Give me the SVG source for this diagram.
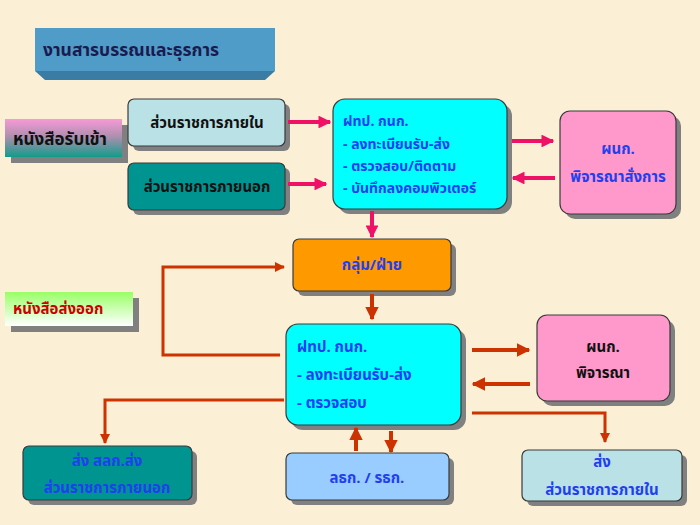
<svg xmlns="http://www.w3.org/2000/svg" width="700" height="525" viewBox="0 0 700 525">
<defs>
<linearGradient id="gPink" x1="0" y1="0" x2="0" y2="1">
<stop offset="0" stop-color="#f79ad6"/><stop offset="0.45" stop-color="#b08fb0"/><stop offset="1" stop-color="#129c8a"/>
</linearGradient>
<linearGradient id="gGreen" x1="0" y1="0" x2="0" y2="1">
<stop offset="0" stop-color="#99ff66"/><stop offset="1" stop-color="#ffffff"/>
</linearGradient>
<marker id="aPink" viewBox="0 0 10 10" refX="9" refY="5" markerWidth="3.2" markerHeight="3.2" orient="auto" markerUnits="strokeWidth">
<path d="M0,0 L10,5 L0,10 Z" fill="#ee1166"/>
</marker>
<marker id="aRed" viewBox="0 0 10 10" refX="9" refY="5" markerWidth="3.4" markerHeight="3.4" orient="auto" markerUnits="strokeWidth">
<path d="M0,0 L10,5 L0,10 Z" fill="#cc3300"/>
</marker>
</defs>
<style>
text{font-family:"Noto Sans Thai","Tahoma","DejaVu Sans","Liberation Sans",sans-serif;font-weight:bold;}
.t{font-size:15px;}
.s{font-size:14px;}
.sh{fill:#808080;}
.box{stroke:#3a3a3a;stroke-width:1.2;}
.blk{fill:#111111;}
.blu{fill:#1f3ff0;}
.pk{stroke:#ee1166;stroke-width:4;fill:none;}
.rd{stroke:#cc3300;stroke-width:4;fill:none;}
.rdt{stroke:#cc3300;stroke-width:3;fill:none;}
.mid{text-anchor:middle;}
</style>
<rect width="700" height="525" fill="#fbf0d6"/>

<g id="title">
<polygon points="35,71 275,71 265,80 45,80" fill="#3a7ca4"/>
<rect x="35" y="28" width="240" height="43" fill="#4f9cc8"/>
<text x="43" y="56" fill="#1b1b50" style="font-size:17.5px">งานสารบรรณและธุรการ</text>
</g>

<g id="label-in">
<rect x="11" y="125" width="117" height="38" class="sh"/>
<rect x="5" y="119" width="117" height="38" fill="url(#gPink)"/>
<text x="13" y="145" class="blk" style="font-size:17px">หนังสือรับเข้า</text>
</g>

<g id="label-out">
<rect x="11" y="298" width="128" height="34" class="sh"/>
<rect x="5" y="292" width="128" height="34" fill="url(#gGreen)"/>
<text x="13" y="314" class="t" fill="#cc0000">หนังสือส่งออก</text>
</g>

<g id="gov-in">
<rect x="133" y="104" width="157" height="47" rx="6" class="sh"/>
<rect x="128" y="99" width="157" height="47" rx="6" fill="#b9e1e6" class="box"/>
<text x="207" y="128" class="t blk mid">ส่วนราชการภายใน</text>
</g>

<g id="gov-out">
<rect x="133" y="168" width="157" height="47" rx="6" class="sh"/>
<rect x="128" y="163" width="157" height="47" rx="6" fill="#009490" class="box"/>
<text x="207" y="192" class="t blk mid">ส่วนราชการภายนอก</text>
</g>

<g id="saraban-top">
<rect x="338" y="104" width="174" height="110" rx="12" class="sh"/>
<rect x="333" y="99" width="174" height="110" rx="12" fill="#00ffff" class="box"/>
<text x="343" y="126" class="s blu">ฝทป. กนก.</text>
<text x="343" y="149" class="s blu">- ลงทะเบียนรับ-ส่ง</text>
<text x="343" y="171" class="s blu">- ตรวจสอบ/ติดตาม</text>
<text x="343" y="193" class="s blu">- บันทึกลงคอมพิวเตอร์</text>
</g>

<g id="director-top">
<rect x="565" y="116" width="116" height="103" rx="10" class="sh"/>
<rect x="560" y="111" width="116" height="103" rx="10" fill="#ff99cc" class="box"/>
<text x="618" y="154" class="t blu mid">ผนก.</text>
<text x="618" y="182" class="t blu mid">พิจารณาสั่งการ</text>
</g>

<g id="group">
<rect x="298" y="244" width="158" height="52" rx="6" class="sh"/>
<rect x="293" y="239" width="158" height="52" rx="6" fill="#ff9900" class="box"/>
<text x="372" y="270" class="t blu mid">กลุ่ม/ฝ่าย</text>
</g>

<g id="saraban-bottom">
<rect x="291" y="329" width="175" height="101" rx="12" class="sh"/>
<rect x="286" y="324" width="175" height="101" rx="12" fill="#00ffff" class="box"/>
<text x="297" y="352" class="t blu">ฝทป. กนก.</text>
<text x="297" y="380" class="t blu">- ลงทะเบียนรับ-ส่ง</text>
<text x="297" y="408" class="t blu">- ตรวจสอบ</text>
</g>

<g id="director-bottom">
<rect x="542" y="320" width="133" height="86" rx="10" class="sh"/>
<rect x="537" y="315" width="133" height="86" rx="10" fill="#ff99cc" class="box"/>
<text x="603" y="352" class="t blk mid">ผนก.</text>
<text x="603" y="378" class="t blk mid">พิจารณา</text>
</g>

<g id="send-out">
<rect x="28" y="451" width="169" height="54" rx="6" class="sh"/>
<rect x="23" y="446" width="169" height="54" rx="6" fill="#009490" class="box"/>
<text x="107" y="466" class="t blu mid">ส่ง สลก.ส่ง</text>
<text x="107" y="493" class="t blu mid">ส่วนราชการภายนอก</text>
</g>

<g id="secretary">
<rect x="291" y="458" width="163" height="47" rx="6" class="sh"/>
<rect x="286" y="453" width="163" height="47" rx="6" fill="#99ccff" class="box"/>
<text x="367" y="483" class="t blu mid">ลธก. / รธก.</text>
</g>

<g id="send-in">
<rect x="527" y="455" width="160" height="51" rx="6" class="sh"/>
<rect x="522" y="450" width="160" height="51" rx="6" fill="#b9e1e6" class="box"/>
<text x="602" y="467" class="t blu mid">ส่ง</text>
<text x="602" y="495" class="t blu mid">ส่วนราชการภายใน</text>
</g>

<g id="connectors">
<line x1="288" y1="122" x2="330" y2="122" class="pk" marker-end="url(#aPink)"/>
<line x1="288" y1="184" x2="326" y2="184" class="pk" marker-end="url(#aPink)"/>
<line x1="512" y1="141" x2="553" y2="141" class="pk" marker-end="url(#aPink)"/>
<line x1="555" y1="178" x2="513" y2="178" class="pk" marker-end="url(#aPink)"/>
<line x1="372" y1="211" x2="372" y2="237" class="pk" marker-end="url(#aPink)"/>
<line x1="372" y1="294" x2="372" y2="319" class="rd" marker-end="url(#aRed)"/>
<polyline points="280,355 163,355 163,267 284,267" class="rdt" marker-end="url(#aRed)"/>
<line x1="472" y1="350" x2="529" y2="350" class="rd" marker-end="url(#aRed)"/>
<line x1="530" y1="384" x2="473" y2="384" class="rd" marker-end="url(#aRed)"/>
<polyline points="472,413 605,413 605,442" class="rdt" marker-end="url(#aRed)"/>
<polyline points="284,400 105,400 105,443" class="rdt" marker-end="url(#aRed)"/>
<line x1="356" y1="451" x2="356" y2="428" class="rd" marker-end="url(#aRed)"/>
<line x1="391" y1="431" x2="391" y2="452" class="rd" marker-end="url(#aRed)"/>
</g>
</svg>
